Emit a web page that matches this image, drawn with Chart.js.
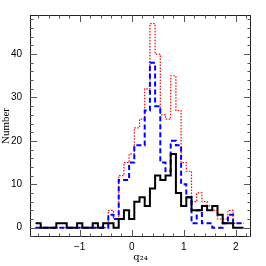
<!DOCTYPE html>
<html>
<head>
<meta charset="utf-8">
<script src="https://cdn.jsdelivr.net/npm/chart.js@4.4.0/dist/chart.umd.min.js"></script>
<style>
  html, body { margin: 0; padding: 0; background: #fff; }
  #c { display: block; }
</style>
</head>
<body>
<canvas id="c" width="266" height="266"></canvas>
<script>
// bin centres of the q24 histogram (bin width 0.1)
var binCenters = [-1.8, -1.7, -1.6, -1.5, -1.4, -1.3, -1.2, -1.1, -1.0, -0.9,
                  -0.8, -0.7, -0.6, -0.5, -0.4, -0.3, -0.2, -0.1, 0.0, 0.1,
                  0.2, 0.3, 0.4, 0.5, 0.6, 0.7, 0.8, 0.9, 1.0, 1.1,
                  1.2, 1.3, 1.4, 1.5, 1.6, 1.7, 1.8, 1.9, 2.0, 2.1];
var binWidth = 0.1;

// counts per bin
var dottedCounts = [0, 0, 0, 0, 0, 0, 0, 0, 0, 0, 0, 0, 0, 0,
                    4, 2, 12, 15, 17, 23, 25, 32, 47, 40, 26, 25, 35, 27,
                    15, 13, 6, 8, 6, 5, 4, 2, 2, 4, 1, 1];
var dashedCounts = [0, 0, 0, 0, 0, 0, 0, 0, 0, 0, 0, 0, 0, 0,
                    3, 2, 11, 11, 15, 19, 19, 27, 38, 28, 15, 13, 20, 19,
                    10, 7, 1, 4, 1, 1, 0, 0, 1, 3, 1, 1];
var solidCounts  = [1, 0, 0, 0, 1, 1, 0, 0, 1, 0, 0, 1, 0, 1,
                    1, 0, 2, 4, 2, 6, 7, 5, 9, 12, 11, 12, 17, 8,
                    5, 7, 4, 4, 5, 4, 5, 3, 1, 1, 0, 0];

// axis ticks
var xTickLabels = [-1, 0, 1, 2];
var yTickLabels = [0, 10, 20, 30, 40];
var xMinorStep = 0.2;
var yMinorStep = 2;

// histogram outline: one point on the left edge of each bin, plus the last right edge
function steps(counts) {
    var pts = binCenters.map(function (c, i) {
        return { x: c - binWidth / 2, y: counts[i] };
    });
    pts.push({ x: binCenters[binCenters.length - 1] + binWidth / 2, y: counts[counts.length - 1] });
    return pts;
}

// frame with inward ticks on all four sides
var frameTicks = {
    id: 'frameTicks',
    afterDatasetsDraw: function (chart) {
        var ctx = chart.ctx, a = chart.chartArea;
        var xs = chart.scales.x, ys = chart.scales.y;
        ctx.save();
        ctx.strokeStyle = '#222';
        ctx.lineWidth = 1;
        ctx.strokeRect(Math.round(a.left) + 0.5, Math.round(a.top) + 0.5,
                       Math.round(a.right - a.left) - 1, Math.round(a.bottom - a.top) - 1);
        ctx.strokeStyle = '#555';
        ctx.beginPath();
        var v, p, len;
        for (v = Math.ceil(xs.min / xMinorStep) * xMinorStep; v <= xs.max + 1e-9; v += xMinorStep) {
            p = Math.round(xs.getPixelForValue(v)) + 0.5;
            len = Math.abs(v - Math.round(v)) < 1e-6 ? 7 : 3.5;
            ctx.moveTo(p, a.bottom); ctx.lineTo(p, a.bottom - len);
            ctx.moveTo(p, a.top); ctx.lineTo(p, a.top + len);
        }
        for (v = Math.ceil(ys.min / yMinorStep) * yMinorStep; v <= ys.max + 1e-9; v += yMinorStep) {
            p = Math.round(ys.getPixelForValue(v)) + 0.5;
            len = Math.abs(v / 10 - Math.round(v / 10)) < 1e-6 ? 7 : 3.5;
            ctx.moveTo(a.left, p); ctx.lineTo(a.left + len, p);
            ctx.moveTo(a.right, p); ctx.lineTo(a.right - len, p);
        }
        ctx.stroke();
        ctx.restore();
    }
};

new Chart(document.getElementById('c').getContext('2d'), {
    type: 'line',
    data: {
        datasets: [
            { label: 'solid', data: steps(solidCounts), borderColor: '#000', borderWidth: 2, stepped: 'before', pointRadius: 0, fill: false },
            { label: 'dashed', data: steps(dashedCounts), borderColor: '#0000ff', borderWidth: 2, borderDash: [5, 3], stepped: 'before', pointRadius: 0, fill: false },
            { label: 'dotted', data: steps(dottedCounts), borderColor: '#ff0000', borderWidth: 1.2, borderDash: [1.5, 1.5], stepped: 'before', pointRadius: 0, fill: false }
        ]
    },
    options: {
        animation: false,
        responsive: false,
        maintainAspectRatio: false,
        layout: { padding: { top: 15, right: 15, left: 0, bottom: 0 } },
        plugins: { legend: { display: false }, tooltip: { enabled: false } },
        scales: {
            x: {
                type: 'linear',
                min: -1.956,
                max: 2.294,
                afterFit: function (s) { s.height = 29; },
                afterBuildTicks: function (s) { s.ticks = xTickLabels.map(function (v) { return { value: v }; }); },
                grid: { display: false, drawTicks: false },
                border: { display: false },
                ticks: {
                    padding: 4,
                    color: '#000',
                    font: { family: 'Liberation Sans', size: 10 },
                    callback: function (v) { return v < 0 ? '\u2212' + Math.abs(v) : String(v); }
                },
                title: {
                    display: true,
                    text: 'q\u2082\u2084',
                    color: '#000',
                    font: { family: 'DejaVu Serif', size: 10 },
                    padding: { top: 0, bottom: 3 }
                }
            },
            y: {
                min: -2.15,
                max: 49.0,
                afterFit: function (s) { s.width = 30; },
                afterBuildTicks: function (s) { s.ticks = yTickLabels.map(function (v) { return { value: v }; }); },
                grid: { display: false, drawTicks: false },
                border: { display: false },
                ticks: {
                    padding: 8,
                    color: '#000',
                    font: { family: 'Liberation Sans', size: 10 }
                },
                title: {
                    display: true,
                    text: 'Number',
                    color: '#000',
                    font: { family: 'Liberation Serif', size: 11 },
                    padding: { top: 0, bottom: 0 }
                }
            }
        }
    },
    plugins: [frameTicks]
});
</script>
</body>
</html>
